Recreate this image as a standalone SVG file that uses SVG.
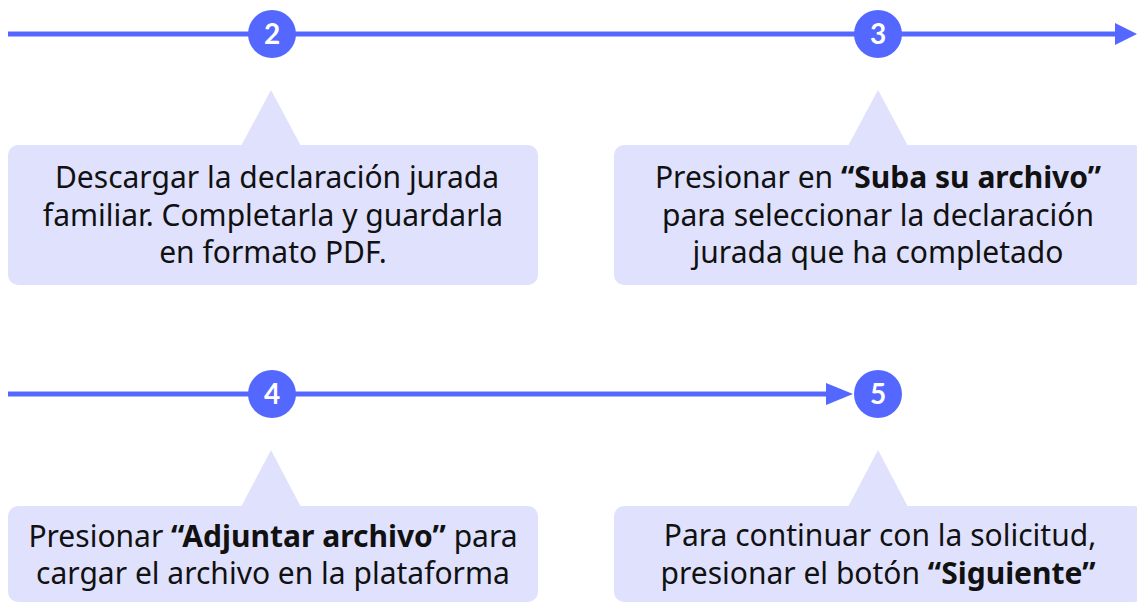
<svg xmlns="http://www.w3.org/2000/svg" width="1137" height="603" viewBox="0 0 1137 603">
<style>
.line{stroke:#5468FF;stroke-width:5;fill:none}
.dot{fill:#5468FF}
.num{fill:#fff;font-family:Lato,"Liberation Sans",sans-serif;font-weight:bold;font-size:28px;text-anchor:middle}
.box{fill:#E0E2FD}
.txt{fill:#111;font-family:"Noto Sans","Open Sans",sans-serif;font-size:30px;text-anchor:middle}
.b{font-weight:bold}
</style>
<rect width="1137" height="603" fill="#fff"/>
<g id="connectors">
<line class="line" x1="8" y1="34" x2="1118" y2="34"/>
<polygon class="dot" points="1115,23 1137,34 1115,45"/>
<line class="line" x1="8" y1="394" x2="830" y2="394"/>
<polygon class="dot" points="826,383 853,394 826,405"/>
</g>
<g id="step2">
<circle class="dot" cx="272" cy="34" r="24"/>
<text class="num" x="272" y="44">2</text>
<polygon class="box" points="271,90 241,146 301,146"/>
<rect class="box" x="8" y="145" width="530" height="140" rx="10"/>
<text class="txt" x="277" y="188">Descargar la declaración jurada</text>
<text class="txt" x="273" y="226">familiar. Completarla y guardarla</text>
<text class="txt" x="273" y="263">en formato PDF.</text>
</g>
<g id="step3">
<circle class="dot" cx="878" cy="34" r="24"/>
<text class="num" x="878" y="44">3</text>
<polygon class="box" points="878,90 848,146 908,146"/>
<rect class="box" x="614" y="145" width="530" height="140" rx="10"/>
<text class="txt" x="878" y="188">Presionar en <tspan class="b">“Suba su archivo”</tspan></text>
<text class="txt" x="878" y="226">para seleccionar la declaración</text>
<text class="txt" x="878" y="263">jurada que ha completado</text>
</g>
<g id="step4">
<circle class="dot" cx="272" cy="394" r="24"/>
<text class="num" x="272" y="404">4</text>
<polygon class="box" points="271,450 241,507 301,507"/>
<rect class="box" x="8" y="506" width="530" height="96" rx="10"/>
<text class="txt" x="273" y="547">Presionar <tspan class="b">“Adjuntar archivo”</tspan> para</text>
<text class="txt" x="273" y="584">cargar el archivo en la plataforma</text>
</g>
<g id="step5">
<circle class="dot" cx="878" cy="394" r="24"/>
<text class="num" x="878" y="404">5</text>
<polygon class="box" points="878,450 848,507 908,507"/>
<rect class="box" x="614" y="506" width="530" height="96" rx="10"/>
<text class="txt" x="880" y="546">Para continuar con la solicitud,</text>
<text class="txt" x="878" y="584">presionar el botón <tspan class="b">“Siguiente”</tspan></text>
</g>
</svg>
